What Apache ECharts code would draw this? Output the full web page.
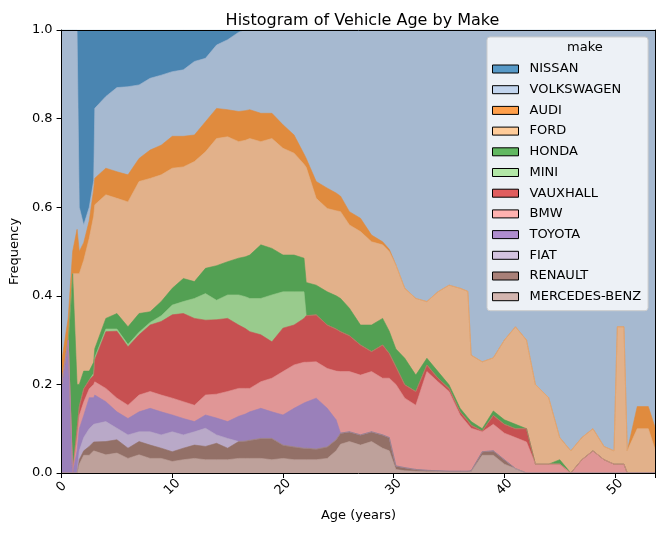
<!DOCTYPE html>
<html>
<head>
<meta charset="utf-8">
<script src="https://cdn.jsdelivr.net/npm/echarts@6/dist/echarts.min.js"></script>
<style>
  html, body { margin: 0; padding: 0; background: #fff; }
  #chart { width: 664px; height: 533px; }
</style>
</head>
<body>
<div id="chart"></div>
<script>
// Histogram of vehicle age by make, seaborn-style "fill" stacking (shares per age).

const AGES = [0, 0.6, 1.0, 1.4, 1.6, 2.0, 2.5, 2.9, 3, 4,
  5, 6, 7, 8, 9, 10, 11, 12, 13, 14,
  15, 16, 16.6, 17, 18, 19, 20, 21, 21.9, 22.1,
  23, 24, 24.8, 25.2, 26, 27, 28, 29, 29.6, 30.2,
  31, 32, 33, 34, 35, 36, 36.7, 37, 38, 39,
  40, 41, 42, 42.8, 44, 45, 46, 47, 48, 49,
  49.9, 50.2, 50.8, 51.1, 52, 53, 53.65];

const NISSAN = [0, 0, 0, 0, 0.4, 0.44, 0.40, 0.34, 0.177, 0.15,
  0.13, 0.128, 0.124, 0.109, 0.102, 0.094, 0.09, 0.071, 0.064, 0.034,
  0.022, 0.005, 0, 0, 0, 0, 0, 0, 0, 0,
  0, 0, 0, 0, 0, 0, 0, 0, 0, 0,
  0, 0, 0, 0, 0, 0, 0, 0, 0, 0,
  0, 0, 0, 0, 0, 0, 0, 0, 0, 0,
  0, 0, 0, 0, 0, 0, 0];

const VOLKSWAGEN = [0.75, 0.65, 0.5, 0.45, 0.1, 0.04, 0.03, 0.02, 0.158, 0.162,
  0.19, 0.199, 0.166, 0.162, 0.158, 0.146, 0.15, 0.166, 0.143, 0.143,
  0.158, 0.179, 0.182, 0.18, 0.188, 0.188, 0.214, 0.237, 0.28, 0.29,
  0.342, 0.357, 0.368, 0.375, 0.41, 0.425, 0.463, 0.478, 0.495, 0.53,
  0.583, 0.606, 0.613, 0.591, 0.576, 0.583, 0.59, 0.734, 0.749, 0.74,
  0.7, 0.67, 0.7, 0.8, 0.83, 0.92, 0.95, 0.92, 0.9, 0.94,
  0.95, 0.67, 0.67, 0.95, 0.85, 0.85, 0.9];

const AUDI = [0.05, 0.05, 0.05, 0.1, 0.05, 0.04, 0.04, 0.06, 0.06, 0.06,
  0.06, 0.061, 0.052, 0.064, 0.067, 0.072, 0.069, 0.06, 0.068, 0.068,
  0.061, 0.068, 0.067, 0.065, 0.064, 0.057, 0.053, 0.041, 0.023, 0.02,
  0.038, 0.046, 0.04, 0.035, 0.03, 0.03, 0.015, 0.007, 0.005, 0,
  0, 0, 0, 0, 0, 0, 0, 0, 0, 0,
  0, 0, 0, 0, 0, 0, 0, 0, 0, 0,
  0, 0, 0, 0, 0.05, 0.05, 0.05];

const FORD = [0, 0, 0, 0.25, 0.25, 0.25, 0.30, 0.33, 0.325, 0.279,
  0.26, 0.282, 0.298, 0.301, 0.286, 0.271, 0.252, 0.271, 0.263, 0.287,
  0.282, 0.263, 0.263, 0.263, 0.233, 0.248, 0.241, 0.23, 0.212, 0.26,
  0.196, 0.188, 0.192, 0.196, 0.188, 0.211, 0.188, 0.166, 0.18, 0.19,
  0.158, 0.173, 0.128, 0.18, 0.225, 0.271, 0.285, 0.15, 0.151, 0.12,
  0.18, 0.22, 0.2, 0.18, 0.15, 0.05, 0.05, 0.05, 0.05, 0.03,
  0.03, 0.31, 0.31, 0.05, 0.1, 0.1, 0.05];

const HONDA = [0, 0, 0.45, 0.1, 0.05, 0.04, 0.02, 0.025, 0.02, 0.024,
  0.035, 0.04, 0.042, 0.024, 0.032, 0.038, 0.052, 0.038, 0.057, 0.078,
  0.075, 0.083, 0.09, 0.098, 0.121, 0.105, 0.083, 0.083, 0.076, 0.075,
  0.067, 0.075, 0.075, 0.075, 0.062, 0.045, 0.06, 0.06, 0.05, 0.04,
  0.06, 0.037, 0.015, 0.015, 0.008, 0.008, 0.007, 0.008, 0.005, 0.01,
  0.01, 0.01, 0, 0, 0, 0.01, 0, 0, 0, 0,
  0, 0, 0, 0, 0, 0, 0];

const MINI = [0, 0, 0, 0, 0, 0, 0, 0.005, 0.005, 0.006,
  0.005, 0.005, 0.006, 0.006, 0.013, 0.022, 0.027, 0.045, 0.06, 0.044,
  0.053, 0.068, 0.072, 0.075, 0.082, 0.106, 0.082, 0.075, 0.06, 0,
  0, 0, 0, 0, 0, 0, 0, 0, 0, 0,
  0, 0, 0, 0, 0, 0, 0, 0, 0, 0,
  0, 0, 0, 0, 0, 0, 0, 0, 0, 0,
  0, 0, 0, 0, 0, 0, 0];

const VAUXHALL = [0, 0, 0, 0.02, 0.02, 0.03, 0.02, 0.02, 0.05, 0.128,
  0.151, 0.132, 0.136, 0.15, 0.166, 0.188, 0.199, 0.196, 0.169, 0.168,
  0.165, 0.143, 0.135, 0.128, 0.106, 0.082, 0.098, 0.09, 0.099, 0.105,
  0.106, 0.098, 0.095, 0.09, 0.081, 0.068, 0.045, 0.075, 0.056, 0.04,
  0.03, 0.031, 0.015, 0.008, 0.007, 0.007, 0.008, 0.007, 0.002, 0.02,
  0.02, 0.02, 0.03, 0, 0, 0, 0, 0, 0, 0,
  0, 0, 0, 0, 0, 0, 0];

const BMW = [0, 0, 0, 0.03, 0.03, 0.03, 0.02, 0.03, 0.03, 0.03,
  0.031, 0.03, 0.038, 0.038, 0.038, 0.038, 0.038, 0.037, 0.045, 0.054,
  0.068, 0.063, 0.058, 0.053, 0.06, 0.076, 0.098, 0.098, 0.092, 0.09,
  0.082, 0.09, 0.11, 0.139, 0.136, 0.135, 0.136, 0.128, 0.134, 0.184,
  0.157, 0.145, 0.223, 0.201, 0.18, 0.127, 0.106, 0.096, 0.045, 0.06,
  0.06, 0.07, 0.07, 0.02, 0.02, 0.02, 0, 0.03, 0.05, 0.03,
  0.02, 0.02, 0.02, 0, 0, 0, 0];

const TOYOTA = [0.2, 0.3, 0, 0.05, 0.05, 0.05, 0.07, 0.06, 0.068, 0.045,
  0.037, 0.037, 0.045, 0.053, 0.052, 0.038, 0.037, 0.023, 0.03, 0.038,
  0.038, 0.057, 0.061, 0.064, 0.068, 0.06, 0.068, 0.087, 0.102, 0.104,
  0.115, 0.087, 0.045, 0, 0, 0, 0, 0, 0, 0,
  0, 0, 0, 0, 0, 0, 0, 0, 0, 0,
  0, 0, 0, 0, 0, 0, 0, 0, 0, 0,
  0, 0, 0, 0, 0, 0, 0];

const FIAT = [0, 0, 0, 0, 0.02, 0.03, 0.04, 0.04, 0.037, 0.045,
  0.026, 0.03, 0.022, 0.03, 0.03, 0.045, 0.03, 0.03, 0.041, 0.019,
  0.022, 0, 0, 0, 0, 0, 0, 0, 0, 0,
  0, 0, 0, 0, 0, 0, 0, 0, 0, 0,
  0, 0, 0, 0, 0, 0, 0, 0, 0, 0,
  0, 0, 0, 0, 0, 0, 0, 0, 0, 0,
  0, 0, 0, 0, 0, 0, 0];

const RENAULT = [0, 0, 0, 0, 0.01, 0.01, 0.02, 0.02, 0.023, 0.03,
  0.03, 0.023, 0.03, 0.03, 0.023, 0.022, 0.026, 0.03, 0.03, 0.037,
  0.026, 0.038, 0.039, 0.041, 0.045, 0.048, 0.03, 0.029, 0.026, 0.026,
  0.024, 0.026, 0.025, 0.025, 0.022, 0.023, 0.022, 0.03, 0.03, 0.008,
  0.007, 0.004, 0.003, 0.002, 0.002, 0.002, 0.002, 0.002, 0.008, 0.01,
  0.01, 0, 0, 0, 0, 0, 0, 0, 0, 0,
  0, 0, 0, 0, 0, 0, 0];

const MERCEDES_BENZ = [0, 0, 0, 0, 0.02, 0.04, 0.04, 0.05, 0.048, 0.041,
  0.045, 0.033, 0.041, 0.033, 0.033, 0.026, 0.03, 0.033, 0.03, 0.03,
  0.03, 0.033, 0.033, 0.033, 0.033, 0.03, 0.033, 0.03, 0.03, 0.03,
  0.03, 0.033, 0.05, 0.065, 0.071, 0.063, 0.071, 0.056, 0.05, 0.008,
  0.005, 0.004, 0.003, 0.003, 0.002, 0.002, 0.002, 0.003, 0.04, 0.04,
  0.02, 0.01, 0, 0, 0, 0, 0, 0, 0, 0,
  0, 0, 0, 0, 0, 0, 0];

// legend order (top of the stack first)
const MAKES = ["NISSAN", "VOLKSWAGEN", "AUDI", "FORD", "HONDA", "MINI",
  "VAUXHALL", "BMW", "TOYOTA", "FIAT", "RENAULT", "MERCEDES-BENZ"];

const X_TICKS = [0, 10, 20, 30, 40, 50];
const Y_TICKS = [0, 0.2, 0.4, 0.6, 0.8, 1.0];

// --- styles ----------------------------------------------------------------
const FONT = "DejaVu Sans";
// colour as it appears inside the plot (bars over white, with edges)
const FILL = {
  NISSAN: "#4a85b1", VOLKSWAGEN: "#a6b9d0", AUDI: "#e08b3e", FORD: "#e2b18a",
  HONDA: "#53a053", MINI: "#99cb8d", VAUXHALL: "#c75051", BMW: "#e09696",
  TOYOTA: "#9a80ba", FIAT: "#b9a9c8", RENAULT: "#937067", "MERCEDES-BENZ": "#bea19b",
};
// legend patches: tab20 at alpha .75 over white
const PATCH = {
  NISSAN: "#5799c7", VOLKSWAGEN: "#c2d5ee", AUDI: "#ff9f4a", FORD: "#ffcc9a",
  HONDA: "#61b861", MINI: "#b2e7a7", VAUXHALL: "#e05d5e", BMW: "#ffb2b0",
  TOYOTA: "#af8dce", FIAT: "#d4c4e0", RENAULT: "#a98078", "MERCEDES-BENZ": "#d3b5af",
};

const SHARE = {
  NISSAN, VOLKSWAGEN, AUDI, FORD, HONDA, MINI, VAUXHALL, BMW, TOYOTA, FIAT, RENAULT,
  "MERCEDES-BENZ": MERCEDES_BENZ,
};

// "fill" normalisation per age sample, then the top edge of each make's band
// (its share plus all makes stacked below it).
const totals = AGES.map((_, i) => MAKES.reduce((s, m) => s + SHARE[m][i], 0));
const bottomUp = MAKES.slice().reverse();
const topEdge = {};
AGES.forEach((_, i) => {
  let run = 0;
  bottomUp.forEach((m) => {
    run += SHARE[m][i] / totals[i];
    (topEdge[m] = topEdge[m] || []).push(Math.min(1, run));
  });
});

// each band is an area down to 0; drawn top make first so lower makes paint over it
const series = MAKES.map((m) => ({
  name: m,
  type: "line",
  data: AGES.map((a, i) => [a, topEdge[m][i]]),
  showSymbol: false,
  symbol: "none",
  color: FILL[m],
  lineStyle: { width: 0.6, color: FILL[m] },
  areaStyle: { color: FILL[m], opacity: 1, origin: "start" },
  emphasis: { disabled: true },
  z: 2,
}));

const axisText = { fontFamily: FONT, fontSize: 13, color: "#000" };

const chart = echarts.init(document.getElementById("chart"), null, { renderer: "canvas" });
chart.setOption({
  animation: false,
  backgroundColor: "#fff",
  tooltip: { show: false },
  title: {
    text: "Histogram of Vehicle Age by Make",
    left: 357.5, top: 8, textAlign: "center",
    textStyle: { fontFamily: FONT, fontSize: 16, fontWeight: "normal", color: "#000" },
  },
  grid: { left: 60, right: 8.5, top: 30, bottom: 60 },
  xAxis: [
    {
      type: "value", min: 0, max: 53.65, interval: 10, z: 5,
      axisLine: { onZero: false, lineStyle: { color: "#000", width: 1 } },
      axisTick: { length: 5, lineStyle: { color: "#000" } },
      axisLabel: Object.assign({ rotate: 45, align: "center", verticalAlign: "middle", margin: 14,
        formatter: (v) => (X_TICKS.includes(v) ? String(v) : "") }, axisText),
      splitLine: { show: false },
      name: "Age (years)", nameLocation: "middle", nameGap: 36,
      nameTextStyle: axisText,
    },
    {
      type: "value", min: 0, max: 53.65, position: "top", z: 5,
      axisLine: { onZero: false, lineStyle: { color: "#000", width: 1 } },
      axisTick: { show: false }, axisLabel: { show: false }, splitLine: { show: false },
    },
  ],
  yAxis: [
    {
      type: "value", min: 0, max: 1, interval: 0.2, z: 5,
      axisLine: { show: true, onZero: false, lineStyle: { color: "#000", width: 1 } },
      axisTick: { show: true, length: 5, lineStyle: { color: "#000" } },
      axisLabel: Object.assign({ margin: 9,
        formatter: (v) => (Y_TICKS.some((t) => Math.abs(t - v) < 1e-9) ? v.toFixed(1) : "") }, axisText),
      splitLine: { show: false },
      name: "Frequency", nameLocation: "middle", nameGap: 33,
      nameTextStyle: axisText,
    },
    {
      type: "value", min: 0, max: 1, position: "right", z: 5,
      axisLine: { show: true, onZero: false, lineStyle: { color: "#000", width: 1 } },
      axisTick: { show: false }, axisLabel: { show: false }, splitLine: { show: false },
    },
  ],
  legend: {
    orient: "vertical", left: 487, top: 37,
    padding: [25, 7, 7, 5],
    itemWidth: 26, itemHeight: 8, itemGap: 6.7,
    icon: "rect",
    backgroundColor: "rgba(255,255,255,0.8)",
    borderColor: "#cccccc", borderWidth: 1, borderRadius: 3,
    itemStyle: { borderColor: "#000", borderWidth: 1 },
    textStyle: { fontFamily: FONT, fontSize: 13, color: "#000", lineHeight: 14, padding: [0, 0, 0, 6] },
    selectedMode: false,
    data: MAKES.map((m) => ({ name: m, itemStyle: { color: PATCH[m] } })),
    z: 6,
  },
  graphic: [
    {
      type: "text", left: 567, top: 41, z: 100,
      style: { text: "make", fontFamily: FONT, fontSize: 13, fill: "#000", textAlign: "center" },
    },
  ],
  series,
});
</script>
</body>
</html>
